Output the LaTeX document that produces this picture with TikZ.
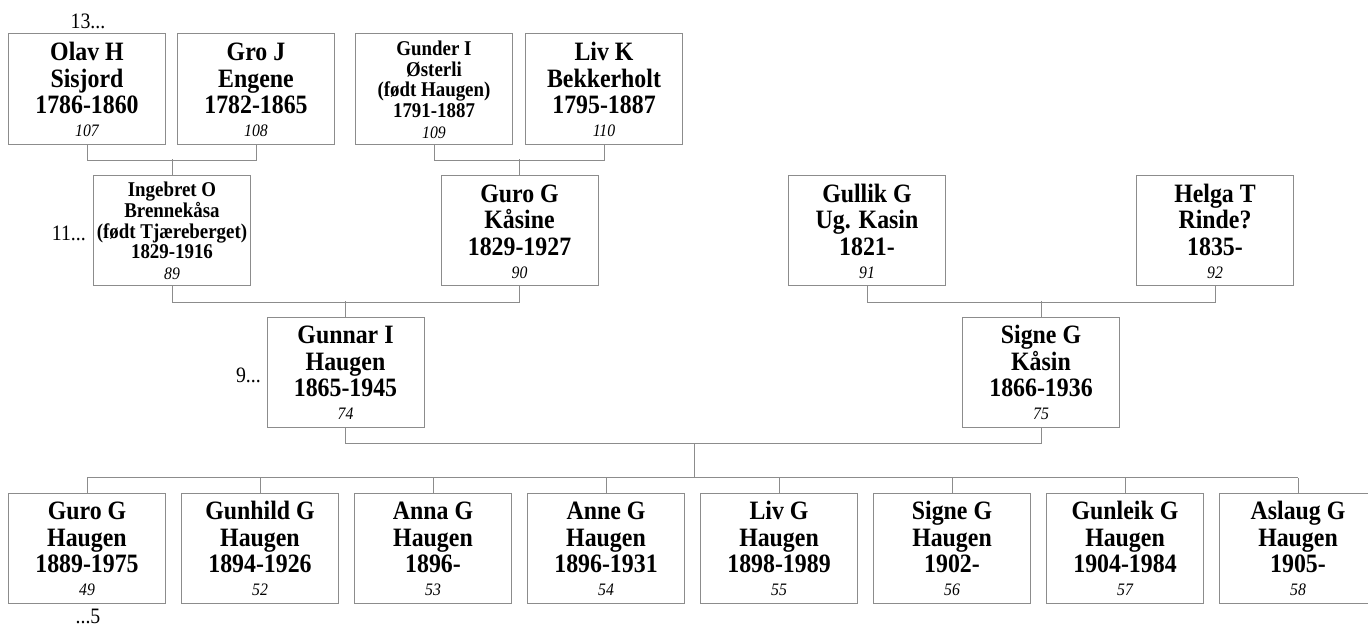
\documentclass[tikz,border=0pt]{standalone}
\usepackage{fontspec}
\setmainfont[FakeStretch=0.9]{Liberation Serif}
\newcommand\refno[1]{{\mdseries\itshape\fontsize{17.5}{20}\selectfont #1}}
\newcommand\tightlines{\lineskip=0pt\relax\lineskiplimit=-1000pt\relax}
\newcommand\lead{\rule{0pt}{0.75em}}

\begin{document}
\begin{tikzpicture}[x=1pt, y=-1pt,
    person/.style={draw=black!45, line width=1pt, minimum width=157pt, minimum height=110pt,
        inner sep=0pt, align=center,
        font=\fontsize{26.5}{26.5}\selectfont\bfseries\tightlines},
    small/.style={font=\fontsize{21}{20.7}\selectfont\bfseries\tightlines},
    gen/.style={inner sep=0pt, font=\fontsize{22}{24}\selectfont},
    link/.style={draw=black!45, line width=1pt}]
    \useasboundingbox (0,0) rectangle (1368,626);

    % great-grandparents
    \node[person] (olav) at (87,89) {\lead Olav H\\Sisjord\\1786-1860\\[-3.5pt]\refno{107}};
    \node[person] (gro) at (256,89) {\lead Gro J\\Engene\\1782-1865\\[-3.5pt]\refno{108}};
    \node[person, small] (gunder) at (434,89) {\lead Gunder I\\Østerli\\(født Haugen)\\1791-1887\\\refno{109}};
    \node[person] (livk) at (604,89) {\lead Liv K\\Bekkerholt\\1795-1887\\[-3.5pt]\refno{110}};

    % grandparents
    \node[person, small] (ingebret) at (172,230.5) {\lead Ingebret O\\Brennekåsa\\(født Tjæreberget)\\1829-1916\\\refno{89}};
    \node[person] (gurog) at (519.5,230.5) {\lead Guro G\\Kåsine\\1829-1927\\[-3.5pt]\refno{90}};
    \node[person] (gullik) at (867,230.5) {\lead Gullik G\\Ug. Kasin\\1821-\\[-3.5pt]\refno{91}};
    \node[person] (helga) at (1215,230.5) {\lead Helga T\\Rinde?\\1835-\\[-3.5pt]\refno{92}};

    % parents
    \node[person] (gunnar) at (345.5,372) {\lead Gunnar I\\Haugen\\1865-1945\\[-3.5pt]\refno{74}};
    \node[person] (signe) at (1041,372) {\lead Signe G\\Kåsin\\1866-1936\\[-3.5pt]\refno{75}};

    % children
    \node[person] (c1) at (87,548) {\lead Guro G\\Haugen\\1889-1975\\[-3.5pt]\refno{49}};
    \node[person] (c2) at (260,548) {\lead Gunhild G\\Haugen\\1894-1926\\[-3.5pt]\refno{52}};
    \node[person] (c3) at (433,548) {\lead Anna G\\Haugen\\1896-\\[-3.5pt]\refno{53}};
    \node[person] (c4) at (606,548) {\lead Anne G\\Haugen\\1896-1931\\[-3.5pt]\refno{54}};
    \node[person] (c5) at (779,548) {\lead Liv G\\Haugen\\1898-1989\\[-3.5pt]\refno{55}};
    \node[person] (c6) at (952,548) {\lead Signe G\\Haugen\\1902-\\[-3.5pt]\refno{56}};
    \node[person] (c7) at (1125,548) {\lead Gunleik G\\Haugen\\1904-1984\\[-3.5pt]\refno{57}};
    \node[person] (c8) at (1298,548) {\lead Aslaug G\\Haugen\\1905-\\[-3.5pt]\refno{58}};

    % generation marks
    \node[gen, anchor=base] (g13) at (88,29) {13...};
    \node[gen, anchor=base east] (g11) at (86,240) {11...};
    \node[gen, anchor=base east] (g9) at (261,382) {9...};
    \node[gen, anchor=base] (g5) at (88,623) {...5};

    % couples
    \draw[link] (olav.south) -- ++(0,16) -| (gro.south);
    \draw[link] (ingebret.north) -- ++(0,-16);
    \draw[link] (gunder.south) -- ++(0,16) -| (livk.south);
    \draw[link] (gurog.north) -- ++(0,-16);
    \draw[link] (ingebret.south) -- ++(0,16) -| (gurog.south);
    \draw[link] (gunnar.north) -- ++(0,-16);
    \draw[link] (gullik.south) -- ++(0,16) -| (helga.south);
    \draw[link] (signe.north) -- ++(0,-16);
    \draw[link] (gunnar.south) -- ++(0,16) -| (signe.south);

    % children bar
    \coordinate (fam) at (694,443);
    \coordinate (kids) at (694,478);
    \draw[link] (fam) -- (kids);
    \draw[link] ([yshift=15pt]c1.north) -- ([yshift=15pt]c8.north);
    \foreach \c in {c1,c2,c3,c4,c5,c6,c7,c8}
        \draw[link] (\c.north) -- ++(0,-15);
\end{tikzpicture}
\end{document}
